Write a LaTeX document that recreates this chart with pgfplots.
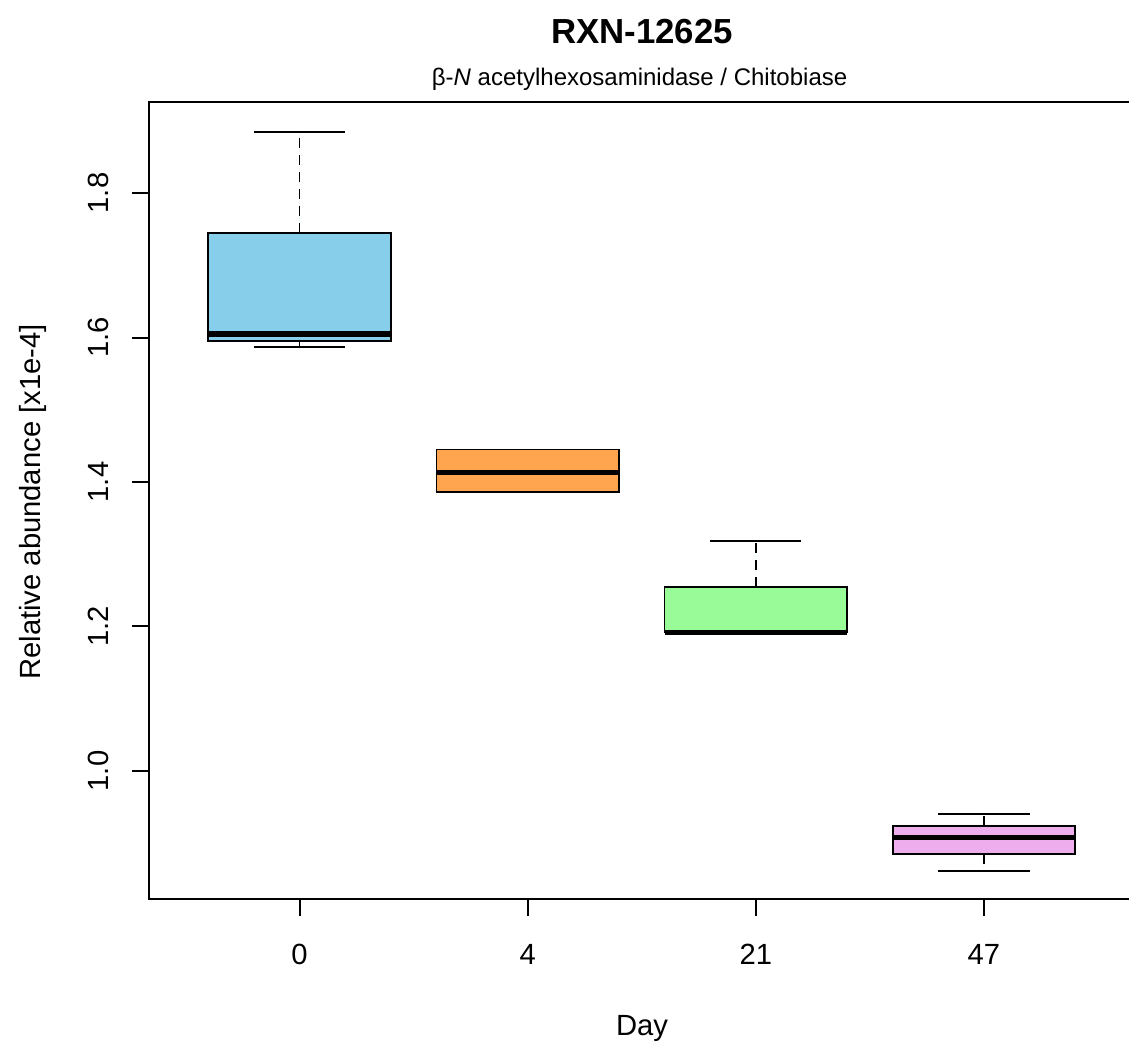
\documentclass[border=0pt]{standalone}
\usepackage{pgfplots}
\pgfplotsset{compat=1.18}
\usepgfplotslibrary{statistics}
\usepackage{fontspec}
\setmainfont{Liberation Sans}
\definecolor{c1}{HTML}{87CEEB}
\definecolor{c2}{HTML}{FFA54F}
\definecolor{c3}{HTML}{98FB98}
\definecolor{c4}{HTML}{EEAEEE}
\begin{document}
\begin{tikzpicture}
\begin{axis}[
 at={(0pt,0pt)}, anchor=south west,
 scale only axis, width=492.75pt, height=398.5pt,
 xmin=0.34, xmax=4.66, ymin=0.8228, ymax=1.9260,
 axis line style={line width=1pt, black},
 xtick={1,2,3,4}, xticklabels={0,4,21,47},
 ytick={1.0,1.2,1.4,1.6,1.8}, yticklabels={1.0,1.2,1.4,1.6,1.8},
 tick align=outside, major tick length=8.5pt,
 every tick/.style={line width=1pt, black},
 xtick pos=bottom, ytick pos=left,
 ticklabel style={font=\fontsize{14.6}{16}\selectfont},
 yticklabel style={rotate=90, anchor=base},
 xticklabel style={anchor=base},
 xticklabel shift=24pt,
 yticklabel shift=11.5pt,
 boxplot/draw direction=y,
 boxplot/box extend=0.8,
 boxplot/draw/median/.code={%
   \draw[line width=2.6pt, black] (boxplot box cs:\pgfplotsboxplotvalue{median},0) -- (boxplot box cs:\pgfplotsboxplotvalue{median},1);},
 boxplot/draw/lower whisker/.code={%
   \draw[dash pattern=on 5pt off 3.5pt] (boxplot box cs:\pgfplotsboxplotvalue{lower quartile},0.5) -- (boxplot box cs:\pgfplotsboxplotvalue{lower whisker},0.5);
   \draw (boxplot box cs:\pgfplotsboxplotvalue{lower whisker},0.25) -- (boxplot box cs:\pgfplotsboxplotvalue{lower whisker},0.75);},
 boxplot/draw/upper whisker/.code={%
   \draw[dash pattern=on 5pt off 3.5pt] (boxplot box cs:\pgfplotsboxplotvalue{upper quartile},0.5) -- (boxplot box cs:\pgfplotsboxplotvalue{upper whisker},0.5);
   \draw (boxplot box cs:\pgfplotsboxplotvalue{upper whisker},0.25) -- (boxplot box cs:\pgfplotsboxplotvalue{upper whisker},0.75);},
]
\addplot[fill=c1, draw=black, line width=0.9pt, boxplot prepared={draw position=1,
  lower whisker=1.5873, lower quartile=1.5947, median=1.6048, upper quartile=1.7451, upper whisker=1.8848}] coordinates {};
\addplot[fill=c2, draw=black, line width=0.9pt, boxplot prepared={draw position=2,
  lower whisker=1.3862, lower quartile=1.3862, median=1.4135, upper quartile=1.4450, upper whisker=1.4450}] coordinates {};
\addplot[fill=c3, draw=black, line width=0.9pt, boxplot prepared={draw position=3,
  lower whisker=1.1900, lower quartile=1.1925, median=1.1912, upper quartile=1.2544, upper whisker=1.3180}] coordinates {};
\addplot[fill=c4, draw=black, line width=0.9pt, boxplot prepared={draw position=4,
  lower whisker=0.8621, lower quartile=0.8846, median=0.9077, upper quartile=0.9237, upper whisker=0.9405}] coordinates {};
\end{axis}
\node[anchor=base, font=\bfseries\fontsize{17.4}{20}\selectfont] at (246.5pt,427.8pt) {RXN-12625};
\node[anchor=base, font=\fontsize{12}{14}\selectfont] at (245.3pt,406.5pt) {β-\textit{N} acetylhexosaminidase / Chitobiase};
\node[anchor=base, font=\fontsize{14.6}{17}\selectfont] at (246.5pt,-68pt) {Day};
\node[anchor=base, rotate=90, font=\fontsize{14.6}{17}\selectfont] at (-54pt,198.5pt) {Relative abundance [x1e-4]};
\pgfresetboundingbox
\useasboundingbox (-74.5pt,-73pt) rectangle (490pt,449.5pt);
\end{tikzpicture}
\end{document}
